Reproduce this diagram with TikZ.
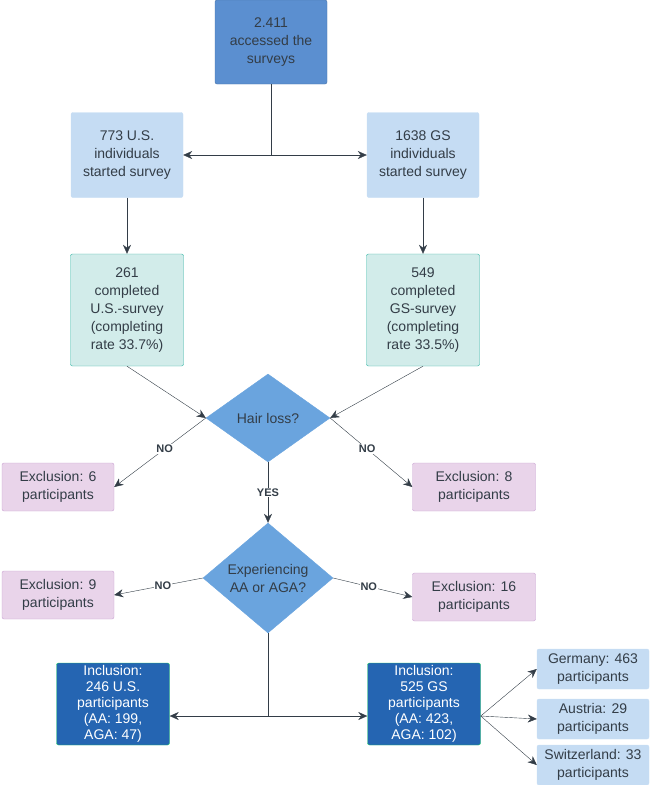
\documentclass[tikz,border=0pt]{standalone}
\usepackage{fontspec}
\setmainfont{Liberation Sans}
\usetikzlibrary{shapes.geometric,arrows.meta}
\definecolor{topb}{HTML}{5B8FD0}
\definecolor{lb}{HTML}{C5DCF3}
\definecolor{tealf}{HTML}{D2ECEA}
\definecolor{tealb}{HTML}{2DB3A2}
\definecolor{pinkf}{HTML}{E9D4EA}
\definecolor{pinkb}{HTML}{C9A3D2}
\definecolor{dia}{HTML}{6AA4DE}
\definecolor{dkb}{HTML}{2565B2}
\definecolor{txt}{HTML}{333D47}
\begin{document}
\begin{tikzpicture}[x=1pt,y=-1pt,font=\fontsize{14}{18}\selectfont,text=txt,
 box/.style={draw,rounded corners=2pt,align=center,inner sep=0pt},
 blue/.style={box,fill=lb,draw=lb,minimum width=112,minimum height=85},
 teal/.style={box,fill=tealf,draw=tealb,minimum width=113,minimum height=112},
 pink/.style={box,fill=pinkf,draw=pinkb,minimum height=48},
 dk/.style={box,fill=dkb,draw=tealb!60!green,text=white,minimum width=113,minimum height=82,font=\fontsize{14}{16}\selectfont},
 sb/.style={box,fill=lb,draw=lb,minimum width=112,minimum height=40},
 dmd/.style={diamond,draw=dia,fill=dia,aspect=1.4,align=center,inner sep=1pt},
 ar/.style={draw=txt,-{Stealth[length=9pt,width=8pt]}},
 ln/.style={draw=txt},
 lab/.style={font=\fontsize{11}{13}\selectfont\bfseries,fill=white,inner sep=1pt}]
\useasboundingbox (0,0) rectangle (663,785);
\node[box,fill=topb,draw=topb!80!black,minimum width=112,minimum height=84] (top) at (271,42) {2.411\\accessed the\\surveys};
\node[blue] (us) at (127,155) {773 U.S.\\individuals\\started survey};
\node[blue] (gs) at (423,155) {1638 GS\\individuals\\started survey};
\node[teal] (usc) at (127,310) {261\\completed\\U.S.-survey\\(completing\\rate 33.7\%)};
\node[teal] (gsc) at (423,310) {549\\completed\\GS-survey\\(completing\\rate 33.5\%)};
\node[dmd,minimum width=124,minimum height=88] (d1) at (268,418) {Hair loss?};
\node[pink,minimum width=112] (e6) at (58,487) {Exclusion: 6\\participants};
\node[pink,minimum width=123] (e8) at (474,487) {Exclusion: 8\\participants};
\node[dmd,minimum width=130,minimum height=110] (d2) at (268,578) {Experiencing\\AA or AGA?};
\node[pink,minimum width=112] (e9) at (58,595) {Exclusion: 9\\participants};
\node[pink,minimum width=123] (e16) at (474,597) {Exclusion: 16\\participants};
\node[dk] (ius) at (113,704) {Inclusion:\\246 U.S.\\participants\\(AA: 199,\\AGA: 47)};
\node[dk] (igs) at (424,704) {Inclusion:\\525 GS\\participants\\(AA: 423,\\AGA: 102)};
\node[sb] (ger) at (593,669) {Germany: 463\\participants};
\node[sb] (aut) at (593,719) {Austria: 29\\participants};
\node[sb] (swi) at (593,765) {Switzerland: 33\\participants};
\coordinate (j1) at (271,155);
\coordinate (j2) at (268,716);
\draw[ln] (top.south) -- (j1);
\draw[ar] (j1) -- (us.east);
\draw[ar] (j1) -- (gs.west);
\draw[ar] (us) -- (usc);
\draw[ar] (gs) -- (gsc);
\draw[ar] (usc.south) -- (d1.west);
\draw[ar] (gsc.south) -- (d1.east);
\draw[ar] (d1.west) -- node[lab,pos=0.45]{NO} (e6.east);
\draw[ar] (d1.east) -- node[lab,pos=0.45]{NO} (e8.west);
\draw[ar] (d1.south) -- node[lab]{YES} (d2.north);
\draw[ar] (d2.west) -- node[lab,pos=0.45]{NO} (e9.east);
\draw[ar] (d2.east) -- node[lab,pos=0.45]{NO} (e16.west);
\draw[ln] (d2.south) -- (j2);
\draw[ar] (j2) -- (ius.east|-j2);
\draw[ar] (j2) -- (igs.west|-j2);
\draw[ar] (igs.east|-j2) -- (ger.west);
\draw[ar] (igs.east|-j2) -- (aut.west);
\draw[ar] (igs.east|-j2) -- (swi.west);
\end{tikzpicture}
\end{document}
